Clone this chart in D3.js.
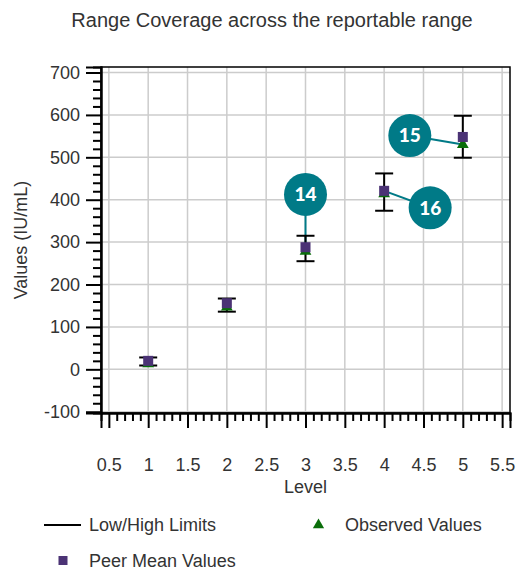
<!DOCTYPE html>
<html>
<head>
<meta charset="utf-8">
<script src="https://cdn.jsdelivr.net/npm/d3@7"></script>
<style>
  body { margin: 0; background: #fff; }
  svg { font-family: "Liberation Sans", Arial, sans-serif; }
</style>
</head>
<body>
<svg id="chart" width="519" height="570"></svg>
<script>
// chart data
const levels = [1, 2, 3, 4, 5]
const lowLimits = [9, 136, 255, 374, 499]
const highLimits = [28, 167, 315, 462, 598]
const peerMeans = [20, 156, 288, 421, 548]
const observed = [13, 147, 278, 414, 530]
const callouts = [
    { level: 3, label: "14" },
    { level: 5, label: "15" },
    { level: 4, label: "16" }
]
const xTicks = [0.5, 1, 1.5, 2, 2.5, 3, 3.5, 4, 4.5, 5, 5.5]
const yTicks = [-100, 0, 100, 200, 300, 400, 500, 600, 700]

const margin = { top: 67, right: 9, bottom: 157, left: 101 }
const width = 519, height = 570

const svg = d3.select("#chart")

const x = d3.scaleLinear()
    .domain([0.4, 5.6])
    .range([margin.left, width - margin.right])
const y = d3.scaleLinear()
    .domain([-103, 713])
    .range([height - margin.bottom, margin.top])

const plotW = width - margin.left - margin.right
const plotH = height - margin.top - margin.bottom

// grid
svg.append("g")
    .attr("stroke", "#cccccc")
    .attr("stroke-width", 1.5)
    .call(g => g.selectAll(".vx").data(xTicks).join("line")
        .attr("x1", d => x(d)).attr("x2", d => x(d))
        .attr("y1", margin.top).attr("y2", height - margin.bottom))
    .call(g => g.selectAll(".hy").data(yTicks).join("line")
        .attr("x1", margin.left).attr("x2", width - margin.right)
        .attr("y1", d => y(d)).attr("y2", d => y(d)))

// frame
svg.append("rect")
    .attr("x", margin.left).attr("y", margin.top)
    .attr("width", plotW).attr("height", plotH)
    .attr("fill", "none").attr("stroke", "#000").attr("stroke-width", 1.5)

// minor ticks
const xMinor = d3.range(5, 56).map(d => d / 10).filter(d => Math.abs(d * 2 - Math.round(d * 2)) > 1e-6)
const yMinor = d3.range(-100, 701, 20).filter(d => d % 100 !== 0)
const plain = d => String(d)

const xAxis = svg.append("g")
    .attr("transform", `translate(0,${height - margin.bottom})`)
xAxis.append("g")
    .call(d3.axisBottom(x).tickValues(xMinor).tickSize(8).tickFormat(""))
xAxis.append("g")
    .call(d3.axisBottom(x).tickValues(xTicks).tickSize(15).tickPadding(30).tickFormat(plain))
xAxis.selectAll(".domain").attr("stroke-width", 2)
xAxis.selectAll(".tick line").attr("stroke-width", 2)
xAxis.selectAll("text").attr("font-size", 18).attr("fill", "#333")
    .attr("font-family", "Liberation Sans, Arial, sans-serif")

const yAxis = svg.append("g")
    .attr("transform", `translate(${margin.left},0)`)
yAxis.append("g")
    .call(d3.axisLeft(y).tickValues(yMinor).tickSize(8).tickFormat(""))
yAxis.append("g")
    .call(d3.axisLeft(y).tickValues(yTicks).tickSize(15).tickPadding(6).tickFormat(plain))
yAxis.selectAll(".domain").attr("stroke-width", 2)
yAxis.selectAll(".tick line").attr("stroke-width", 2)
yAxis.selectAll("text").attr("font-size", 18).attr("fill", "#333")
    .attr("font-family", "Liberation Sans, Arial, sans-serif")

// titles
svg.append("text")
    .attr("x", 272).attr("y", 27)
    .attr("text-anchor", "middle")
    .attr("font-size", 20).attr("fill", "#333")
    .text("Range Coverage across the reportable range")

svg.append("text")
    .attr("x", (margin.left + width - margin.right) / 2).attr("y", 493)
    .attr("text-anchor", "middle")
    .attr("font-size", 18).attr("fill", "#333")
    .text("Level")

svg.append("text")
    .attr("transform", `translate(27,${(margin.top + height - margin.bottom) / 2}) rotate(-90)`)
    .attr("text-anchor", "middle")
    .attr("font-size", 18).attr("fill", "#333")
    .text("Values (IU/mL)")

// callout connectors
const calloutOffset = { "14": [0, -57], "15": [-53, -9], "16": [46, 14] }
const teal = "#007a87"
const pointY = lvl => y(observed[levels.indexOf(lvl)])

svg.append("g")
    .selectAll("line")
    .data(callouts)
    .join("line")
    .attr("x1", d => x(d.level))
    .attr("y1", d => d.label === "16" ? y(peerMeans[levels.indexOf(d.level)]) : pointY(d.level))
    .attr("x2", d => x(d.level) + calloutOffset[d.label][0])
    .attr("y2", d => pointY(d.level) + calloutOffset[d.label][1])
    .attr("stroke", teal).attr("stroke-width", 2)

// error bars
const bars = svg.append("g").attr("stroke", "#000").attr("stroke-width", 2)
levels.forEach((lvl, i) => {
    const cx = x(lvl)
    bars.append("line").attr("x1", cx).attr("x2", cx)
        .attr("y1", y(lowLimits[i])).attr("y2", y(highLimits[i]))
    bars.append("line").attr("x1", cx - 9).attr("x2", cx + 9)
        .attr("y1", y(lowLimits[i])).attr("y2", y(lowLimits[i]))
    bars.append("line").attr("x1", cx - 9).attr("x2", cx + 9)
        .attr("y1", y(highLimits[i])).attr("y2", y(highLimits[i]))
})

// observed triangles
const tri = d3.symbol().type(d3.symbolTriangle).size(60)
svg.append("g")
    .selectAll("path")
    .data(levels)
    .join("path")
    .attr("d", tri)
    .attr("transform", (d, i) => `translate(${x(d)},${y(observed[i])})`)
    .attr("fill", "#0a6e0a")

// peer mean squares
svg.append("g")
    .selectAll("rect")
    .data(levels)
    .join("rect")
    .attr("x", d => x(d) - 5)
    .attr("y", (d, i) => y(peerMeans[i]) - 5)
    .attr("width", 10).attr("height", 10)
    .attr("fill", "#4b3375")

// callout bubbles
const bubble = svg.append("g")
    .selectAll("g")
    .data(callouts)
    .join("g")
    .attr("transform", d => `translate(${x(d.level) + calloutOffset[d.label][0]},${pointY(d.level) + calloutOffset[d.label][1]})`)
bubble.append("circle").attr("r", 21.5).attr("fill", teal)
bubble.append("text")
    .attr("text-anchor", "middle").attr("dy", "0.36em")
    .attr("font-family", "Lato, 'Open Sans', sans-serif")
    .attr("font-weight", "900").attr("font-size", 19)
    .attr("fill", "#fff")
    .text(d => d.label)

// legend
const legend = svg.append("g").attr("font-size", 18).attr("fill", "#333")
legend.append("line")
    .attr("x1", 44).attr("x2", 81).attr("y1", 525).attr("y2", 525)
    .attr("stroke", "#000").attr("stroke-width", 2)
legend.append("text").attr("x", 89).attr("y", 531).text("Low/High Limits")
legend.append("path")
    .attr("d", d3.symbol().type(d3.symbolTriangle).size(55))
    .attr("transform", "translate(318.5,525)")
    .attr("fill", "#0a6e0a")
legend.append("text").attr("x", 345).attr("y", 531).text("Observed Values")
legend.append("rect")
    .attr("x", 58.5).attr("y", 556).attr("width", 9).attr("height", 9)
    .attr("fill", "#4b3375")
legend.append("text").attr("x", 89).attr("y", 567).text("Peer Mean Values")
</script>
</body>
</html>
